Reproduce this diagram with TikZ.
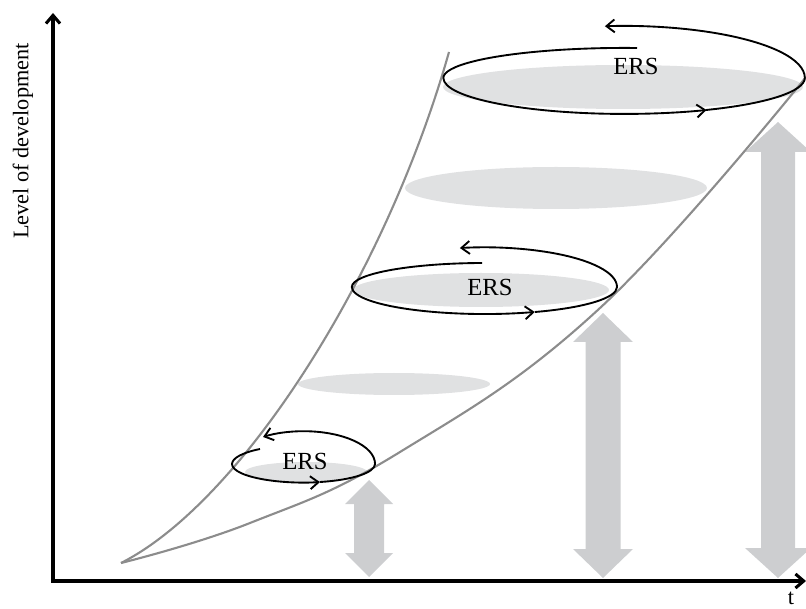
\documentclass[tikz,border=0pt]{standalone}
\usepackage{fontspec}
\setmainfont{Liberation Serif}
\usetikzlibrary{arrows.meta}
\definecolor{edgegray}{RGB}{140,140,140}
\definecolor{discgray}{RGB}{224,225,226}
\definecolor{shaftgray}{RGB}{205,206,208}
\begin{document}
\begin{tikzpicture}[x=0.03cm,y=0.03cm,
	axisline/.style={line width=2.6pt,{Straight Barb[length=7pt,width=12pt]}-{Straight Barb[length=7pt,width=12pt]}},
	bound/.style={line width=1.8pt,edgegray},
	disc/.style={fill=discgray},
	shaft/.style={fill=shaftgray},
	ersline/.style={line width=1.6pt,-{Straight Barb[length=7pt,width=11pt]}},
	txt/.style={font=\fontsize{19}{22}\selectfont,inner sep=0pt},
	erstxt/.style={font=\fontsize{21}{24}\selectfont,inner sep=0pt}]
	\useasboundingbox (0,0) rectangle (806,608);
	\def\UpDown#1#2#3#4#5#6{% x, bottom, top, head half width, shaft half width, head length
		\fill[shaft] (#1,#2) -- ({#1+#4},{#2+#6}) -- ({#1+#5},{#2+#6}) -- ({#1+#5},{#3-#6})
			-- ({#1+#4},{#3-#6}) -- (#1,#3) -- ({#1-#4},{#3-#6}) -- ({#1-#5},{#3-#6})
			-- ({#1-#5},{#2+#6}) -- ({#1-#4},{#2+#6}) -- cycle;}
	\path
		(53,27) coordinate (O)
		(53,595) coordinate (Y)
		(806,27) coordinate (X)
		(121,45) coordinate (S)
	;
	% Discs
	\fill[disc] (623,521) ellipse[x radius=180,y radius=22];
	\fill[disc] (556,420) ellipse[x radius=151,y radius=21];
	\fill[disc] (481,318) ellipse[x radius=128,y radius=17];
	\fill[disc] (394,224) ellipse[x radius=96,y radius=11];
	\fill[disc] (306,136) ellipse[x radius=61,y radius=10];
	% Growth arrows
	\UpDown{369}{31}{128}{24}{15}{24}
	\UpDown{603}{30}{295}{30}{17.5}{29}
	\UpDown{778}{30}{486}{33}{17}{30}
	% Funnel
	\draw[bound] (S) .. controls (240,105) and (385,330) .. (449,556);
	\draw[bound] plot[smooth,tension=0.7] coordinates
		{(121,45) (250,85) (400,156) (600,300) (806,531)};
	% Axes
	\draw[axisline] (Y) -- (O) -- (X);
	\node[txt,rotate=90] (ylabel) at (23,467) {Level of development};
	\node[txt] (tlabel) at (791,10) {t};
	% ERS loops
	\draw[ersline] (637,560) arc[start angle=86,end angle=180,x radius=181,y radius=30]
		arc[start angle=180,end angle=297,x radius=181,y radius=36];
	\draw[ersline] (706,498) arc[start angle=297,end angle=360,x radius=181,y radius=36]
		arc[start angle=0,end angle=96,x radius=181,y radius=52];
	\node[erstxt] (ers3) at (636,542) {ERS};
	\draw[ersline] (482,345) arc[start angle=91,end angle=180,x radius=132.5,y radius=24]
		arc[start angle=180,end angle=292.4,x radius=132.5,y radius=27];
	\draw[ersline] (535,296) arc[start angle=292.4,end angle=360,x radius=132.5,y radius=27]
		arc[start angle=0,end angle=100.7,x radius=132.5,y radius=39.7];
	\node[erstxt] (ers2) at (490,321) {ERS};
	\draw[ersline] (260,159) arc[start angle=127.5,end angle=180,x radius=71.5,y radius=19]
		arc[start angle=180,end angle=283.3,x radius=71.5,y radius=18.5];
	\draw[ersline] (320,126) arc[start angle=283.3,end angle=360,x radius=71.5,y radius=18.5]
		arc[start angle=0,end angle=124.5,x radius=71.5,y radius=32.8];
	\node[erstxt] (ers1) at (305,147) {ERS};
\end{tikzpicture}
\end{document}
